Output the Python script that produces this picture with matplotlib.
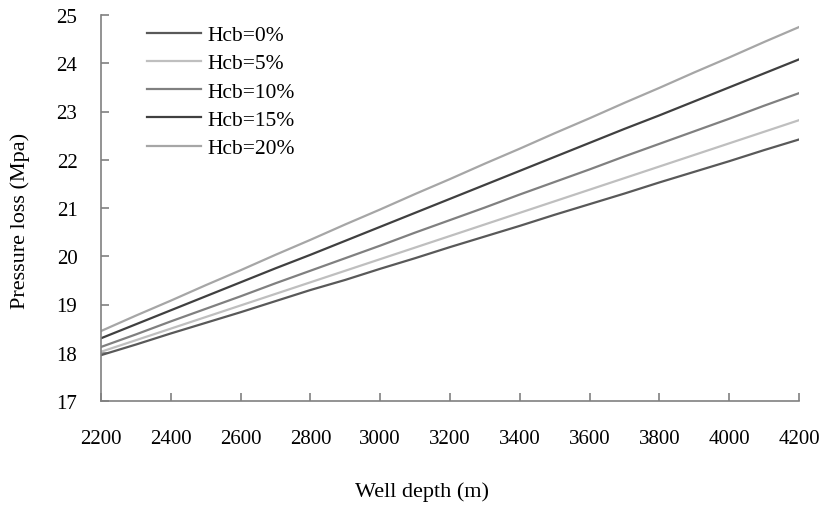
import matplotlib
matplotlib.use("Agg")
import matplotlib.pyplot as plt

plt.rcParams["font.family"] = ["Liberation Serif", "DejaVu Serif"]

depth = [2200, 2300, 2400, 2500, 2600, 2700, 2800, 2900, 3000, 3100, 3200,
         3300, 3400, 3500, 3600, 3700, 3800, 3900, 4000, 4100, 4200]

hcb_0 = [17.95, 18.17, 18.40, 18.62, 18.84, 19.07, 19.30, 19.51, 19.74, 19.96, 20.19,
         20.41, 20.63, 20.86, 21.08, 21.30, 21.53, 21.75, 21.97, 22.20, 22.42]
hcb_5 = [18.02, 18.26, 18.50, 18.74, 18.98, 19.22, 19.46, 19.70, 19.94, 20.18, 20.42,
         20.66, 20.90, 21.14, 21.38, 21.62, 21.86, 22.10, 22.34, 22.58, 22.82]
hcb_10 = [18.12, 18.38, 18.65, 18.91, 19.17, 19.44, 19.70, 19.96, 20.22, 20.49, 20.75,
          21.01, 21.28, 21.54, 21.80, 22.07, 22.33, 22.59, 22.85, 23.12, 23.38]
hcb_15 = [18.30, 18.59, 18.88, 19.17, 19.46, 19.75, 20.03, 20.32, 20.61, 20.90, 21.19,
          21.48, 21.77, 22.06, 22.35, 22.64, 22.92, 23.21, 23.50, 23.79, 24.08]
hcb_20 = [18.45, 18.77, 19.08, 19.40, 19.71, 20.03, 20.34, 20.66, 20.97, 21.29, 21.60,
          21.92, 22.23, 22.55, 22.86, 23.18, 23.49, 23.81, 24.12, 24.44, 24.75]

labels = ["Hcb=0%", "Hcb=5%", "Hcb=10%", "Hcb=15%", "Hcb=20%"]
series = [hcb_0, hcb_5, hcb_10, hcb_15, hcb_20]
colors = ["#595959", "#bfbfbf", "#808080", "#404040", "#a6a6a6"]

fig = plt.figure(figsize=(8.23, 5.06), dpi=100)
ax = fig.add_axes([101 / 823, 1 - 402 / 506, 698 / 823, 386 / 506])

for vals, lab, col in zip(series, labels, colors):
    ax.plot(depth, vals, color=col, lw=1.6, label=lab)

ax.set_xlim(2200, 4200)
ax.set_ylim(17, 25)
ax.set_xticks(range(2200, 4201, 200))
ax.set_yticks(range(17, 26))

for side in ["top", "right"]:
    ax.spines[side].set_visible(False)
for side in ["left", "bottom"]:
    ax.spines[side].set_color("#808080")
    ax.spines[side].set_linewidth(1.2)

ax.tick_params(axis="both", direction="in", length=6, width=1.2,
               color="#808080", labelsize=15)
ax.tick_params(axis="x", pad=20)
ax.tick_params(axis="y", pad=17)

ax.set_xlabel("Well depth (m)", fontsize=16, va="center")
ax.xaxis.set_label_coords(0.46, -0.233)
ax.set_ylabel("Pressure loss (Mpa)", fontsize=16, va="center")
ax.yaxis.set_label_coords(-0.116, 0.47)

ax.legend(loc="upper left", bbox_to_anchor=(147 / 823, 1 - 26 / 506),
          bbox_transform=fig.transFigure, frameon=False, fontsize=15.5,
          handlelength=2.5, handletextpad=0.3, labelspacing=0.38,
          borderpad=0, borderaxespad=0)

fig.savefig("out.png", dpi=100)
